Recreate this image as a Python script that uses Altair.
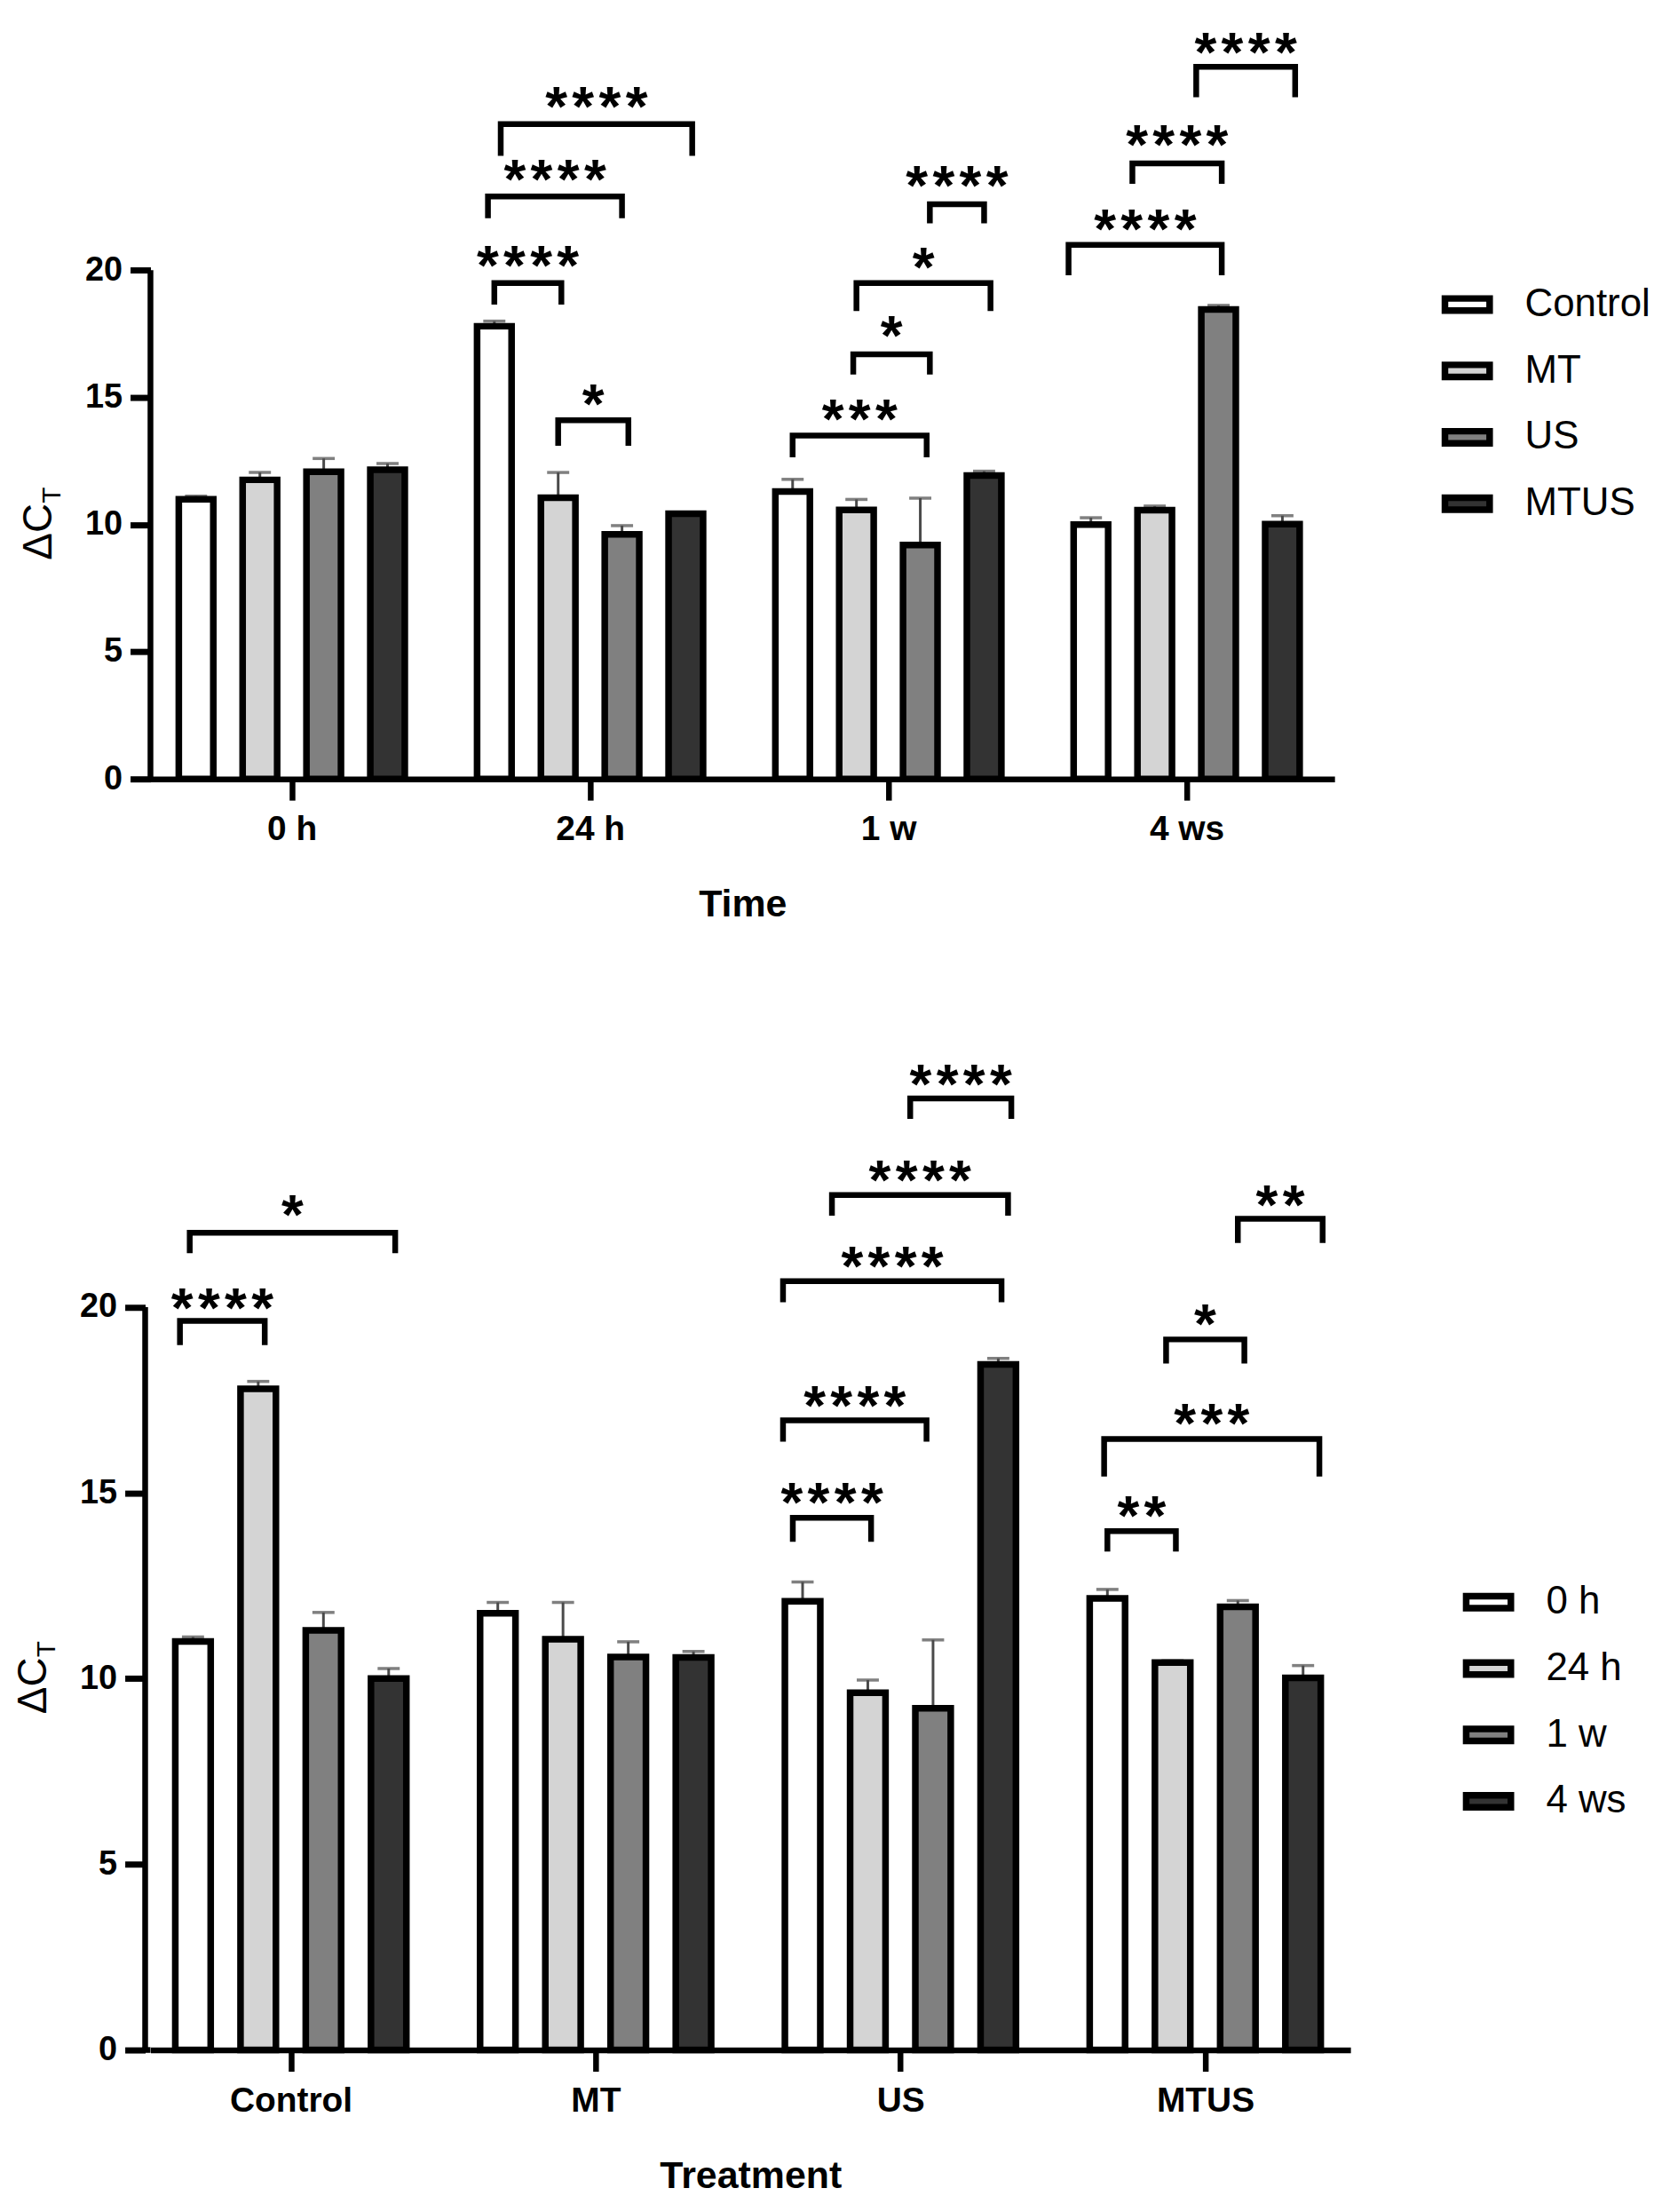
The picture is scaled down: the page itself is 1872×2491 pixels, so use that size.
import altair as alt
import pandas as pd

treatments = ["Control", "MT", "US", "MTUS"]
times = ["0 h", "24 h", "1 w", "4 ws"]

# mean delta-CT per treatment, across times (0 h, 24 h, 1 w, 4 ws)
mean_control = [11.00, 17.80, 11.30, 10.00]
mean_mt = [11.76, 11.06, 10.58, 10.57]
mean_us = [12.08, 9.62, 9.20, 18.46]
mean_mtus = [12.16, 10.43, 11.93, 10.02]
# upper error (SEM)
sem_control = [0.12, 0.20, 0.48, 0.27]
sem_mt = [0.29, 0.99, 0.41, 0.16]
sem_us = [0.52, 0.34, 1.84, 0.16]
sem_mtus = [0.24, 0.05, 0.17, 0.33]

fills = ["#ffffff", "#d4d4d4", "#808080", "#333333"]

# significance brackets, top panel (groups = time, slots = treatment)
sigA_group = [1, 1, 1, 1, 2, 2, 2, 2, 3, 3, 3]
sigA_from = [0.0, -0.1, 0.1, 1.0, 0.0, 0.95, 1.0, 2.15, -0.35, 0.65, 1.65]
sigA_to = [1.05, 2.0, 3.1, 2.1, 2.1, 2.15, 3.1, 3.0, 2.05, 2.05, 3.2]
sigA_top = [19.5, 22.9, 25.75, 14.1, 13.5, 16.7, 19.5, 22.6, 21.0, 24.2, 28.0]
sigA_leg = [18.65, 22.05, 24.5, 13.1, 12.65, 15.9, 18.4, 21.85, 19.8, 23.4, 26.8]
sigA_lab = ["****", "****", "****", "*", "***", "*", "*", "****", "****", "****", "****"]
sigA_laby = [20.7, 24.1, 26.95, 15.25, 14.65, 17.95, 20.65, 23.85, 22.15, 25.45, 29.1]

# significance brackets, bottom panel (groups = treatment, slots = time)
sigB_group = [0, 0, 2, 2, 2, 2, 2, 3, 3, 3, 3]
sigB_from = [-0.2, -0.05, -0.15, -0.3, -0.3, 0.45, 1.65, 0.0, -0.05, 0.9, 2.0]
sigB_to = [1.1, 3.1, 1.05, 1.9, 3.05, 3.15, 3.2, 1.05, 3.25, 2.1, 3.3]
sigB_top = [19.63, 22.0, 14.33, 16.95, 20.7, 23.02, 25.62, 13.97, 16.45, 19.13, 22.38]
sigB_leg = [18.98, 21.45, 13.68, 16.38, 20.13, 22.46, 25.07, 13.42, 15.44, 18.48, 21.73]
sigB_lab = ["****", "*", "****", "****", "****", "****", "****", "**", "***", "*", "**"]
sigB_laby = [20.34, 22.85, 15.09, 17.69, 21.46, 23.78, 26.36, 14.73, 17.23, 19.9, 23.1]

means = [mean_control, mean_mt, mean_us, mean_mtus]
sems = [sem_control, sem_mt, sem_us, sem_mtus]
SLOT = 0.214
FONT = "Liberation Sans"
STAR_SIZE = 64


def bar_table(by_time):
    rows = []
    for ti in range(4):
        for tj in range(4):
            m = means[ti][tj]
            e = sems[ti][tj]
            if by_time:
                g, s, name = tj, ti, treatments[ti]
            else:
                g, s, name = ti, tj, times[tj]
            rows.append({"pos": g + (s - 1.5) * SLOT, "mean": m, "top": m + e,
                         "series": name, "order": s})
    return pd.DataFrame(rows)


def bracket_tables(grp, fr, to, top, leg, lab, laby):
    pts, labs = [], []
    for i in range(len(grp)):
        xf = grp[i] + (fr[i] - 1.5) * SLOT
        xt = grp[i] + (to[i] - 1.5) * SLOT
        for k, (xx, yy) in enumerate([(xf, leg[i]), (xf, top[i]), (xt, top[i]), (xt, leg[i])]):
            pts.append({"id": i, "k": k, "x": xx, "y": yy})
        labs.append({"x": (xf + xt) / 2, "y": laby[i], "t": "\u200a".join(list(lab[i]))})
    return pd.DataFrame(pts), pd.DataFrame(labs)


def panel(by_time, sig, series_names, group_names, title, width, height, ymax,
          xmin, xmax, bar_px, legx, legy, yoff):
    bars = bar_table(by_time)
    pts, labs = bracket_tables(*sig)
    xscale = alt.Scale(domain=[xmin, xmax], nice=False, zero=False)
    yscale = alt.Scale(domain=[0, ymax], nice=False, zero=True)
    expr = "[" + ",".join("'" + n + "'" for n in group_names) + "][datum.value]"
    xaxis = alt.Axis(values=[0, 1, 2, 3], labelExpr=expr, title=title,
                     domainColor="black", domainWidth=6.5, tickColor="black",
                     tickWidth=6.5, tickSize=24, labelFont=FONT, labelFontWeight="bold",
                     labelFontSize=39, labelColor="black", labelPadding=14,
                     titleFont=FONT, titleFontWeight="bold", titleFontSize=43,
                     titleColor="black", titlePadding=44, grid=False)
    yaxis = alt.Axis(values=[0, 5, 10, 15, 20], domain=False, title=None, offset=yoff,
                     tickColor="black", tickWidth=7, tickSize=23, labelFont=FONT,
                     labelFontWeight="bold", labelFontSize=38, labelColor="black",
                     labelPadding=9, grid=False)
    base = alt.Chart(bars)
    err = base.mark_rule(color="#4a4a4a", strokeWidth=3).encode(
        x=alt.X("pos:Q", scale=xscale, axis=xaxis),
        y=alt.Y("mean:Q", scale=yscale, axis=yaxis),
        y2="top:Q")
    cap = base.mark_tick(orient="horizontal", size=25, thickness=3.5, color="#4a4a4a").encode(
        x="pos:Q", y="top:Q")
    bar = base.mark_bar(size=bar_px, stroke="black", strokeWidth=7.5).encode(
        x="pos:Q", y="mean:Q",
        color=alt.Color("series:N", sort=series_names,
                        scale=alt.Scale(domain=series_names, range=fills),
                        legend=alt.Legend(title=None, orient="none", legendX=legx, legendY=legy,
                                          symbolType="M-1,-0.27H1V0.27H-1Z", symbolSize=2550,
                                          symbolStrokeColor="black", symbolStrokeWidth=7.5,
                                          symbolOpacity=1, labelFont=FONT,
                                          labelFontSize=44, labelColor="black",
                                          labelOffset=36, rowPadding=24, padding=0)))
    axis_data = pd.DataFrame({"lo": [0], "hi": [20]})
    yline = alt.Chart(axis_data).mark_rule(color="black", strokeWidth=6.5).encode(
        x=alt.value(-yoff), y="lo:Q", y2="hi:Q")
    layers = [err, cap, bar, yline]
    if yoff:
        xfill = alt.Chart(axis_data).mark_rule(color="black", strokeWidth=6.5).encode(
            x=alt.value(-yoff - 3), x2=alt.value(0), y="lo:Q")
        layers.append(xfill)
    brk = alt.Chart(pts).mark_line(color="black", strokeWidth=6.5, strokeJoin="miter",
                                   strokeCap="butt").encode(
        x="x:Q", y="y:Q", detail="id:N", order="k:Q")
    stars = alt.Chart(labs).mark_text(font=FONT, fontWeight="bold", fontSize=STAR_SIZE,
                                      baseline="alphabetic", dy=round(0.57 * STAR_SIZE),
                                      color="black").encode(
        x="x:Q", y="y:Q", text="t:N")
    one = pd.DataFrame({"a": ["\u0394C"], "b": ["T"], "v": [10]})
    ytitle1 = alt.Chart(one).mark_text(font=FONT, fontSize=46, angle=270, align="left",
                                       baseline="alphabetic", dx=-40, color="black").encode(
        x=alt.value(-112 - yoff), y="v:Q", text="a:N")
    ytitle2 = alt.Chart(one).mark_text(font=FONT, fontSize=30, angle=270, align="left",
                                       baseline="alphabetic", dx=24, color="black").encode(
        x=alt.value(-102 - yoff), y="v:Q", text="b:N")
    layers += [brk, stars, ytitle1, ytitle2]
    return alt.layer(*layers).properties(width=width, height=height)


top = panel(True, (sigA_group, sigA_from, sigA_to, sigA_top, sigA_leg, sigA_lab, sigA_laby),
            treatments, times, "Time", 1338, 862, 30, -0.459, 3.481, 39, 1459, 297, 0)
bottom = panel(False, (sigB_group, sigB_from, sigB_to, sigB_top, sigB_leg, sigB_lab, sigB_laby),
               times, treatments, "Treatment", 1356, 1154, 27.5, -0.446, 3.462, 40, 1483, 619, 6)

chart = alt.vconcat(top, bottom, spacing=118).resolve_scale(color="independent").configure(
    padding={"left": 7, "top": 6, "right": 5, "bottom": 5}).configure_view(stroke=None)

chart.save("out.html", embed_options={"renderer": "svg", "actions": False})
